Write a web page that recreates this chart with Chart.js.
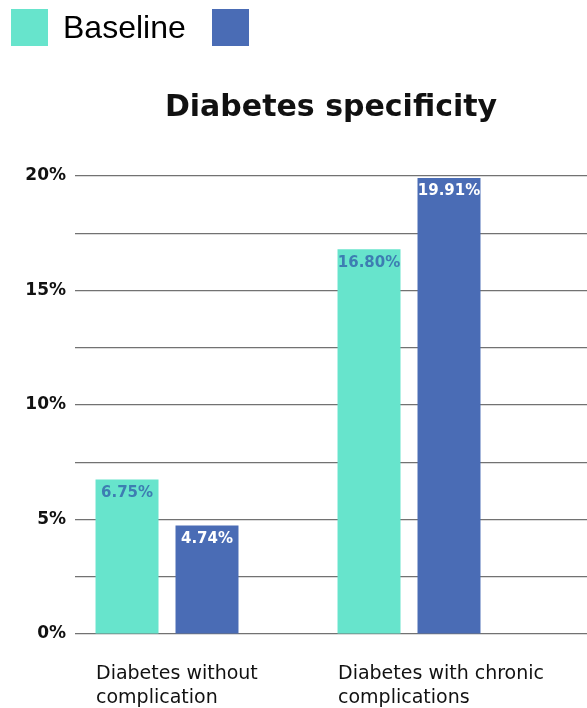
<!DOCTYPE html>
<html>
<head>
<meta charset="utf-8">
<script src="https://cdn.jsdelivr.net/npm/chart.js@4.4.1/dist/chart.umd.min.js"></script>
<style>
  html, body { margin:0; padding:0; background:#fff; }
  #wrap { position:relative; width:587px; height:708px; }
  #legend { position:absolute; left:0; top:0; height:55px; font-family:"Liberation Sans", Arial, sans-serif; font-size:32px; color:#000; }
  #legend .item { position:absolute; top:9px; display:flex; align-items:center; }
  #legend .box { width:37px; height:37px; }
  #legend .txt { margin-left:15px; line-height:37px; }
  canvas { position:absolute; left:0; top:0; }
</style>
</head>
<body>
<div id="wrap">
  <canvas id="specChart" width="587" height="708"></canvas>
  <div id="legend"></div>
</div>
<script>
// Data
const categories = [['Diabetes without', 'complication'], ['Diabetes with chronic', 'complications']];
const baseline = [6.75, 16.80];
const second = [4.74, 19.91];
const seriesNames = ['Baseline', ''];
const yTicks = [0, 2.5, 5, 7.5, 10, 12.5, 15, 17.5, 20];

const teal = '#67e4cc';
const blue = '#4a6cb5';
const wideFont = '"DejaVu Sans", "Open Sans", sans-serif';

// x is linear so the groups can sit off-centre like the original
const xMin = -0.3802, xMax = 1.7355;
const labelAt = [-0.2934, 0.7066];

const valueLabels = {
  id: 'valueLabels',
  afterDatasetsDraw(chart) {
    const ctx = chart.ctx;
    ctx.save();
    ctx.font = 'bold 15px ' + wideFont;
    ctx.textAlign = 'center';
    ctx.textBaseline = 'top';
    chart.data.datasets.forEach((ds, i) => {
      chart.getDatasetMeta(i).data.forEach((bar, j) => {
        ctx.fillStyle = i === 0 ? '#3d7db2' : '#ffffff';
        ctx.fillText(ds.data[j].y.toFixed(2) + '%', bar.x, bar.y + 6);
      });
    });
    ctx.restore();
  }
};

const chart = new Chart(document.getElementById('specChart').getContext('2d'), {
  type: 'bar',
  data: {
    datasets: [
      { label: seriesNames[0], data: baseline.map((v, i) => ({ x: i, y: v })), backgroundColor: teal },
      { label: seriesNames[1], data: second.map((v, i) => ({ x: i, y: v })), backgroundColor: blue }
    ]
  },
  options: {
    responsive: false,
    animation: false,
    categoryPercentage: 0.661,
    barPercentage: 0.7875,
    layout: { padding: { top: 90, left: 0, right: 0, bottom: 0 } },
    plugins: {
      legend: { display: false },
      tooltip: { enabled: false },
      title: {
        display: true,
        fullSize: false,
        text: 'Diabetes specificity',
        color: '#111',
        font: { family: wideFont, size: 30, weight: 'bold' },
        padding: { top: 0, bottom: 50 }
      }
    },
    scales: {
      x: {
        type: 'linear',
        offset: false,
        min: xMin, max: xMax,
        grid: { display: false, drawTicks: false },
        border: { display: false },
        afterBuildTicks: s => { s.ticks = labelAt.map(v => ({ value: v })); },
        afterFit: s => { s.height = 74; },
        ticks: {
          align: 'start',
          padding: 28,
          color: '#111',
          font: { family: wideFont, size: 19, weight: 'normal', lineHeight: 1.26 },
          callback: (v, i) => categories[i]
        }
      },
      y: {
        min: 0, max: 20,
        afterBuildTicks: s => { s.ticks = yTicks.map(v => ({ value: v })); },
        afterFit: s => { s.width = 75; },
        grid: { color: '#727272', lineWidth: 1.2, drawTicks: false },
        border: { display: false },
        ticks: {
          padding: 9,
          color: '#111',
          font: { family: wideFont, size: 17, weight: 'bold' },
          callback: v => (v % 5 === 0 ? v + '%' : '')
        }
      }
    }
  },
  plugins: [valueLabels]
});

// HTML legend built from the datasets
const legendX = [11, 212];
const legend = document.getElementById('legend');
chart.data.datasets.forEach((ds, i) => {
  const item = document.createElement('div');
  item.className = 'item';
  item.style.left = legendX[i] + 'px';
  item.innerHTML = '<span class="box" style="background:' + ds.backgroundColor + '"></span>' +
    (ds.label ? '<span class="txt">' + ds.label + '</span>' : '');
  legend.appendChild(item);
});
</script>
</body>
</html>
